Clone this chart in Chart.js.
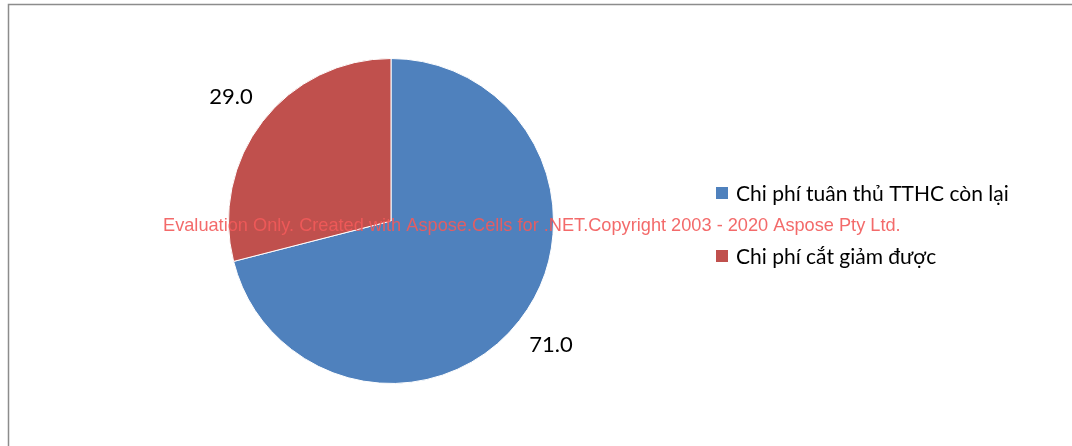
<!DOCTYPE html>
<html><head><meta charset="utf-8">
<script src="https://cdn.jsdelivr.net/npm/chart.js@4/dist/chart.umd.min.js"></script>
<style>html,body{margin:0;padding:0;background:#fff;}#wrap{width:1072px;height:446px;position:relative;}</style>
</head><body><div id="wrap"><canvas id="c" width="1072" height="446"></canvas></div>
<script>
const categories = ["Chi phí tuân thủ TTHC còn lại", "Chi phí cắt giảm được"];
const values = [71.0, 29.0];
const colors = ["#4F81BD", "#C0504D"];
const watermark = "Evaluation Only. Created with Aspose.Cells for .NET.Copyright 2003 - 2020 Aspose Pty Ltd.";

const decor = {
  id: 'decor',
  beforeDraw(chart) {
    const ctx = chart.ctx;
    ctx.save();
    ctx.fillStyle = '#fff';
    ctx.fillRect(0, 0, chart.width, chart.height);
    ctx.strokeStyle = '#8c8c8c';
    ctx.lineWidth = 1.5;
    ctx.beginPath();
    ctx.moveTo(8.5, 460); ctx.lineTo(8.5, 4.5); ctx.lineTo(1080, 4.5);
    ctx.stroke();
    ctx.restore();
  },
  afterDraw(chart) {
    const ctx = chart.ctx;
    const meta = chart.getDatasetMeta(0);
    ctx.save();
    ctx.font = '22px Lato, "Open Sans", sans-serif';
    ctx.fillStyle = '#000';
    ctx.textAlign = 'center';
    ctx.textBaseline = 'middle';
    meta.data.forEach((arc, i) => {
      const p = arc.getProps(['x','y','startAngle','endAngle','outerRadius'], true);
      const mid = (p.startAngle + p.endAngle) / 2;
      const r = p.outerRadius + 40;
      ctx.fillText(values[i].toFixed(1), p.x + Math.cos(mid) * r, p.y + Math.sin(mid) * r);
    });
    // legend
    ctx.font = '21px Lato, "Open Sans", sans-serif';
    ctx.textAlign = 'left';
    categories.forEach((c, i) => {
      const cy = 193 + i * 63;
      ctx.fillStyle = colors[i];
      ctx.fillRect(716, cy - 6, 12, 12);
      ctx.fillStyle = '#000';
      ctx.fillText(c, 736, cy + 1);
    });
    // watermark
    ctx.font = '18.2px "Liberation Sans", Arial, sans-serif';
    ctx.fillStyle = 'rgba(242,90,90,0.9)';
    ctx.textAlign = 'left';
    ctx.fillText(watermark, 163, 226);
    ctx.restore();
  }
};

new Chart(document.getElementById('c'), {
  type: 'pie',
  data: {
    labels: categories,
    datasets: [{ data: values, backgroundColor: colors, borderColor: '#ffffff', borderWidth: 1 }]
  },
  options: {
    responsive: false,
    animation: false,
    layout: { padding: { left: 228, right: 518, top: 57, bottom: 61 } },
    plugins: { legend: { display: false }, tooltip: { enabled: false } }
  },
  plugins: [decor]
});
</script></body></html>
